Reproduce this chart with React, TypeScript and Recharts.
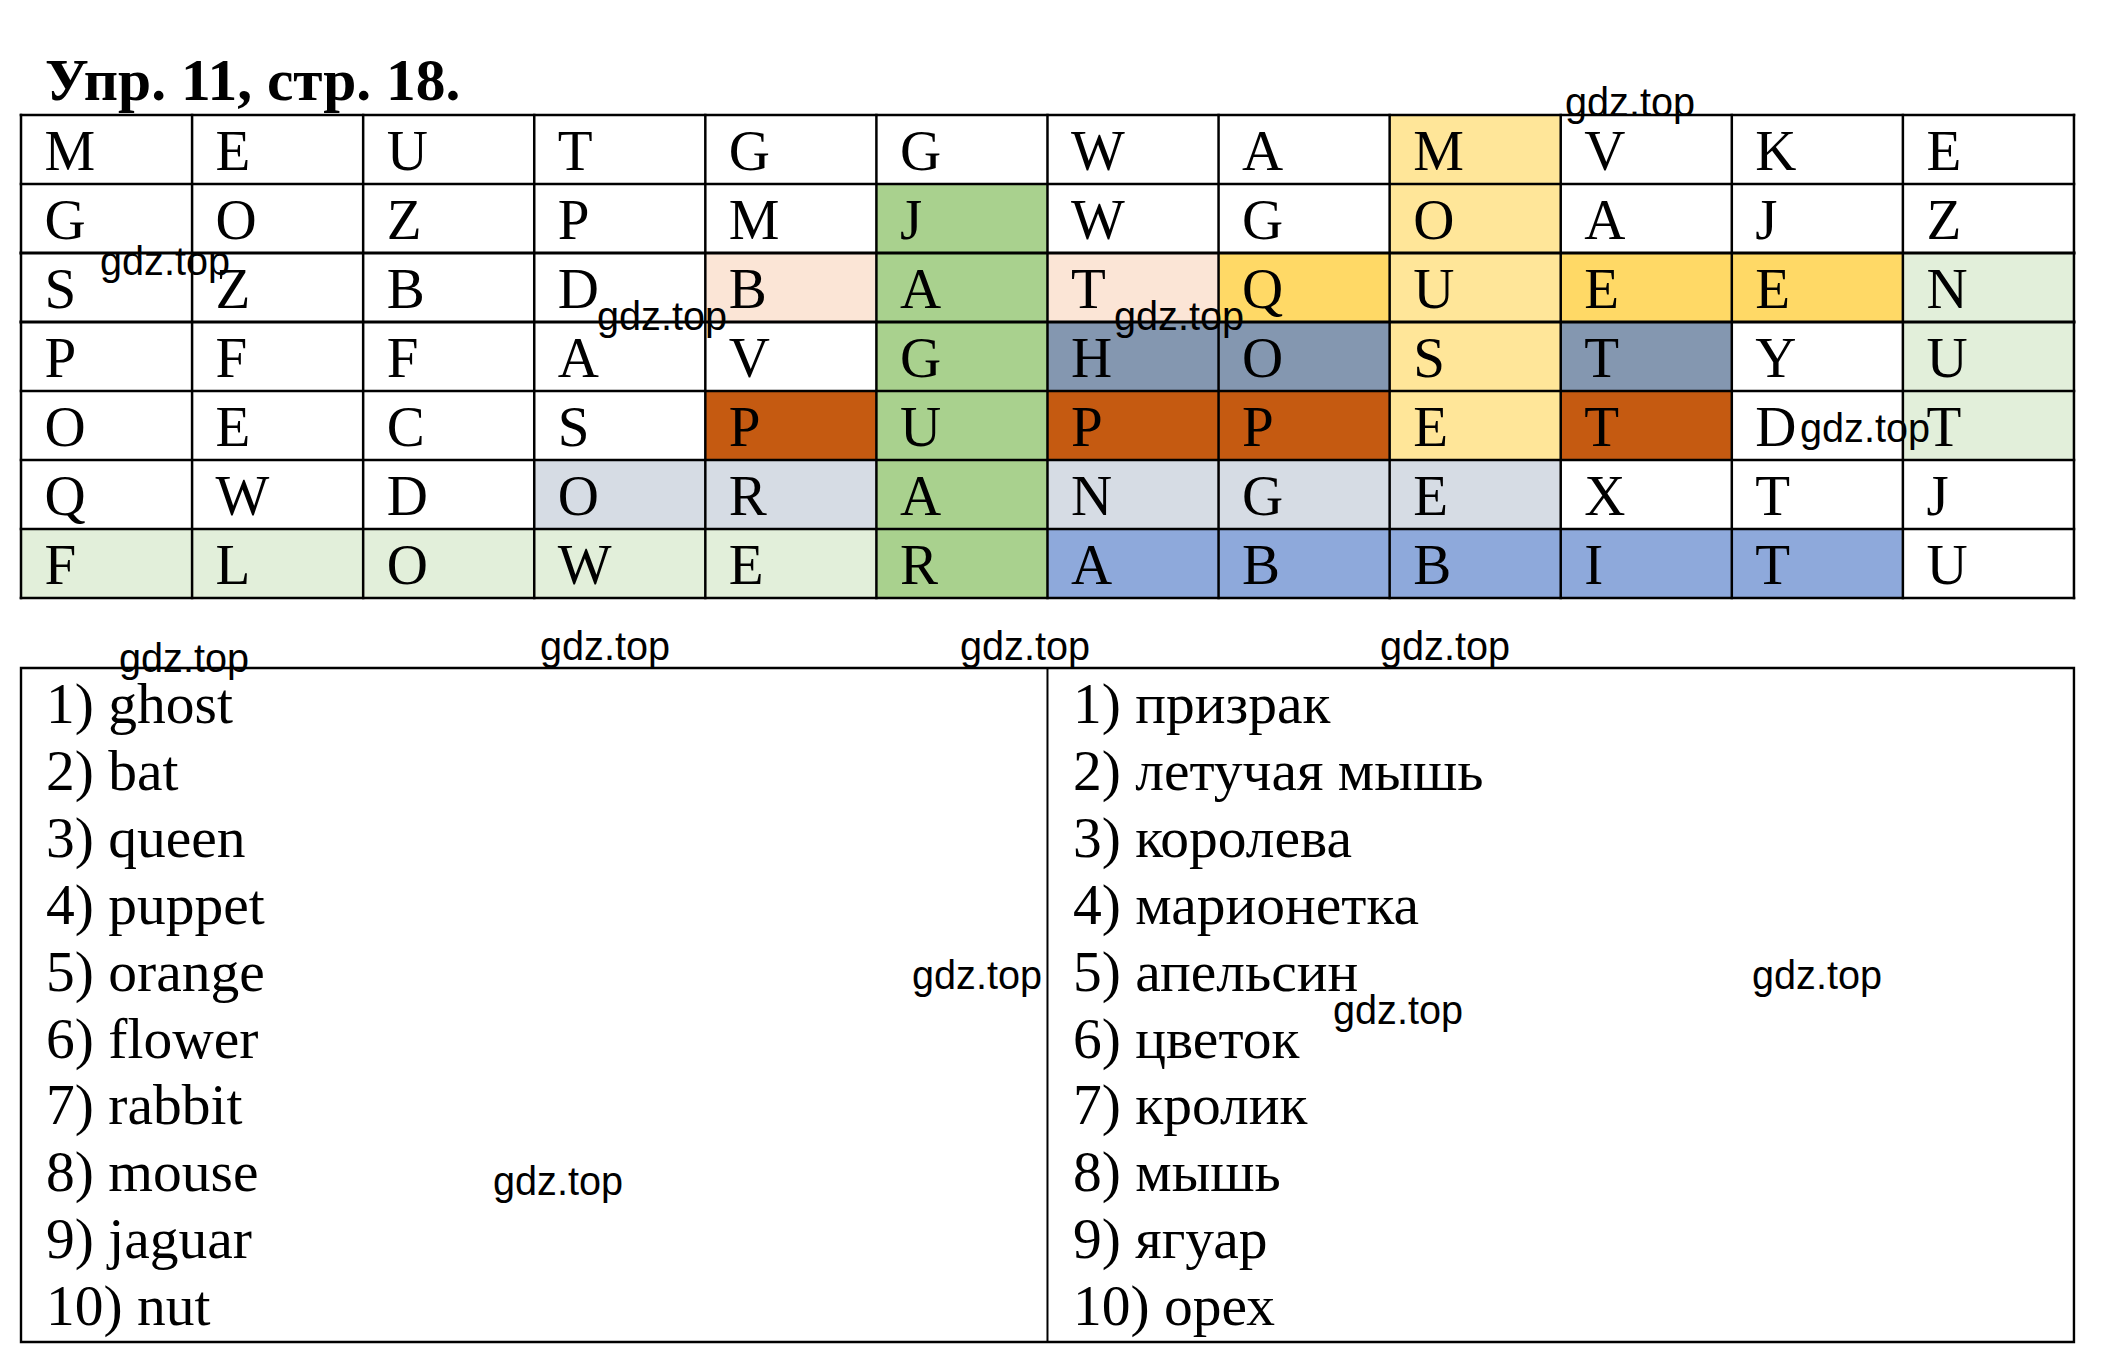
import React from 'react';
import { ScatterChart, Scatter, XAxis, YAxis, ReferenceArea, ReferenceLine } from 'recharts';

// ---------- data ----------
const TITLE = 'Упр. 11, стр. 18.';
const GRID_ROWS = [
  'MEUTGGWAMVKE',
  'GOZPMJWGOAJZ',
  'SZBDBATQUEEN',
  'PFFAVGHOSTYU',
  'OECSPUPPETDT',
  'QWDORANGEXTJ',
  'FLOWERABBITU',
];
// which found word each cell belongs to ('.' = none)
const WORD_KEYS = [
  '........m...',
  '.....j..m...',
  '....bjbqmqqn',
  '.....jggmg.n',
  '....pjppmp.n',
  '...oojooo...',
  'fffffjrrrrr.',
];
const ENGLISH_WORDS = ['ghost', 'bat', 'queen', 'puppet', 'orange', 'flower', 'rabbit', 'mouse', 'jaguar', 'nut'];
const RUSSIAN_WORDS = ['призрак', 'летучая мышь', 'королева', 'марионетка', 'апельсин', 'цветок', 'кролик', 'мышь', 'ягуар', 'орех'];
const WATERMARK = 'gdz.top';

// ---------- styles / layout ----------
const WORD_COLORS: Record<string, string> = {
  m: '#FFE699',
  j: '#A9D18E',
  b: '#FBE5D6',
  q: '#FFD966',
  n: '#E2EFDA',
  g: '#8497B0',
  p: '#C55A11',
  o: '#D6DCE4',
  f: '#E2EFDA',
  r: '#8EA9DB',
};
const NCOLS = 12;
const NROWS = 7;
const COL_PX = 171.08;
const ROW_PX = 69;
const GRID_LEFT_PX = 21;
const GRID_TOP_PX = 115;
const ux = (px: number) => (px - GRID_LEFT_PX) / COL_PX;
const uy = (py: number) => (py - GRID_TOP_PX) / ROW_PX;

const SERIF = '"Liberation Serif", "Times New Roman", serif';
const SANS = '"Liberation Sans", Arial, sans-serif';

const LIST_TOP = uy(668);
const LIST_BOTTOM = uy(1342);
const LIST_DIVIDER = 6;

const WATERMARK_SPOTS = [
  [1565, 116], [100, 275], [597, 330], [1114, 330], [1800, 442],
  [119, 672], [540, 660], [960, 660], [1380, 660],
  [912, 989], [1752, 989], [1333, 1024], [493, 1195],
];

// ---------- derived tables ----------
const cellFills = GRID_ROWS.flatMap((row, r) =>
  row.split('').map((_, c) => ({ r, c, key: WORD_KEYS[r][c] })).filter((d) => d.key !== '.')
);
const letterPoints = GRID_ROWS.flatMap((row, r) =>
  row.split('').map((ch, c) => ({ x: c + 23.5 / COL_PX, y: r + 55 / ROW_PX, text: ch }))
);
const listPoints = [
  ...ENGLISH_WORDS.map((w, i) => ({ x: ux(46), y: uy(723 + i * 66.9), text: `${i + 1}) ${w}` })),
  ...RUSSIAN_WORDS.map((w, i) => ({ x: ux(1073), y: uy(723 + i * 66.9), text: `${i + 1}) ${w}` })),
];
const titlePoints = [{ x: ux(45), y: uy(99.5), text: TITLE }];
const watermarkPoints = WATERMARK_SPOTS.map(([px, py]) => ({ x: ux(px), y: uy(py), text: WATERMARK }));

const textShape = (style: any) => (props: any) => {
  const { cx, cy, payload } = props;
  return (
    <text x={cx} y={cy} {...style}>
      {payload.text}
    </text>
  );
};

export default function App() {
  const W = 2099;
  const H = 1350;
  return (
    <div style={{ width: W, height: H }}>
      <ScatterChart width={W} height={H} margin={{ top: 38, right: W - 13 - NCOLS * COL_PX, bottom: 1, left: 13 }}>
        <XAxis type="number" dataKey="x" domain={[0, NCOLS]} hide />
        <YAxis type="number" dataKey="y" domain={[-1, 18]} reversed hide />
        {cellFills.map((d) => (
          <ReferenceArea
            key={`cell-${d.r}-${d.c}`}
            x1={d.c}
            x2={d.c + 1}
            y1={d.r}
            y2={d.r + 1}
            fill={WORD_COLORS[d.key]}
            fillOpacity={1}
            stroke="none"
            ifOverflow="visible"
          />
        ))}
        {Array.from({ length: NCOLS + 1 }, (_, i) => (
          <ReferenceLine
            key={`v-${i}`}
            segment={[{ x: i, y: 0 }, { x: i, y: NROWS }]}
            stroke="#000"
            strokeWidth={2.5}
            strokeLinecap="square"
            ifOverflow="visible"
          />
        ))}
        {Array.from({ length: NROWS + 1 }, (_, j) => (
          <ReferenceLine
            key={`h-${j}`}
            segment={[{ x: 0, y: j }, { x: NCOLS, y: j }]}
            stroke="#000"
            strokeWidth={j === 2 || j === 3 ? 3.2 : 2.6}
            strokeLinecap="square"
            ifOverflow="visible"
          />
        ))}
        <ReferenceArea
          x1={0}
          x2={NCOLS}
          y1={LIST_TOP}
          y2={LIST_BOTTOM}
          fill="none"
          fillOpacity={0}
          stroke="#000"
          strokeWidth={2.4}
          ifOverflow="visible"
        />
        <ReferenceLine
          segment={[{ x: LIST_DIVIDER, y: LIST_TOP }, { x: LIST_DIVIDER, y: LIST_BOTTOM }]}
          stroke="#000"
          strokeWidth={2}
          ifOverflow="visible"
        />
        <Scatter
          data={letterPoints}
          isAnimationActive={false}
          shape={textShape({ fontFamily: SERIF, fontSize: 57, fill: '#000' })}
        />
        <Scatter
          data={listPoints}
          isAnimationActive={false}
          shape={textShape({ fontFamily: SERIF, fontSize: 57.5, fill: '#000' })}
        />
        <Scatter
          data={titlePoints}
          isAnimationActive={false}
          shape={textShape({ fontFamily: SERIF, fontSize: 59.5, fontWeight: 'bold', fill: '#000' })}
        />
        <Scatter
          data={watermarkPoints}
          isAnimationActive={false}
          shape={textShape({
            fontFamily: SANS,
            fontSize: 40,
            fill: '#000',
            textLength: 130,
            lengthAdjust: 'spacingAndGlyphs',
          })}
        />
      </ScatterChart>
    </div>
  );
}
